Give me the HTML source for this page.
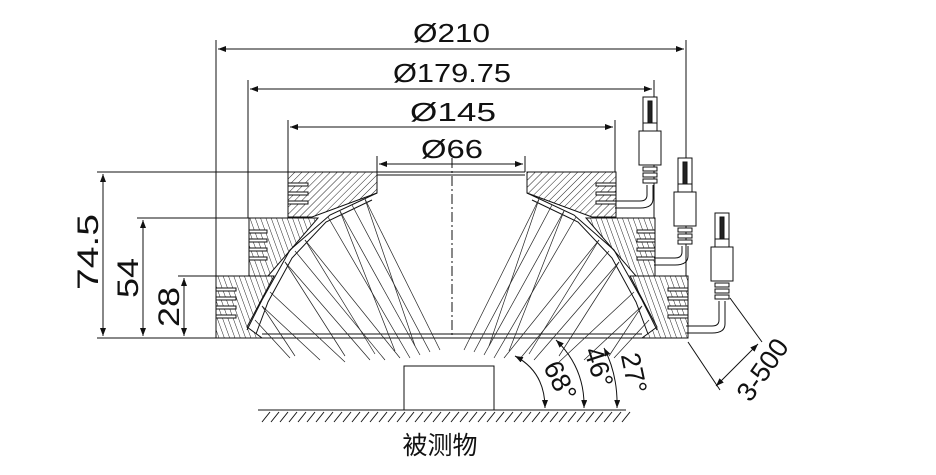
<!DOCTYPE html>
<html><head><meta charset="utf-8"><style>
html,body{margin:0;padding:0;background:#fff;width:936px;height:475px;overflow:hidden}
svg{display:block}
text{font-family:"Liberation Sans","Noto Sans CJK SC",sans-serif;fill:#111}
</style></head><body>
<svg id="s" width="936" height="475" viewBox="0 0 936 475" xmlns="http://www.w3.org/2000/svg">
<defs>
<pattern id="h" width="5" height="5" patternUnits="userSpaceOnUse" patternTransform="rotate(45)">
<line x1="0" y1="0" x2="0" y2="5" stroke="#222" stroke-width="1"/></pattern>
<pattern id="h2" width="5" height="5" patternUnits="userSpaceOnUse" patternTransform="rotate(-20)">
<line x1="0" y1="0" x2="0" y2="5" stroke="#222" stroke-width="1"/></pattern>
<marker id="a" markerWidth="8" markerHeight="6" refX="8" refY="3" orient="auto-start-reverse" markerUnits="userSpaceOnUse">
<path d="M0,0 L8,3 L0,6z" fill="#111"/></marker>
</defs>
<g stroke="#111" stroke-width="1" fill="none">
<line x1="216" y1="40" x2="216" y2="276"/><line x1="686" y1="40" x2="686" y2="276"/>
<line x1="248" y1="80" x2="248" y2="218"/><line x1="654" y1="80" x2="654" y2="218"/>
<line x1="288" y1="120" x2="288" y2="172"/><line x1="615" y1="120" x2="615" y2="172"/>
<line x1="377" y1="156" x2="377" y2="172"/><line x1="525" y1="156" x2="525" y2="172"/>
<line x1="218" y1="49" x2="684" y2="49" marker-start="url(#a)" marker-end="url(#a)"/>
<line x1="250" y1="89" x2="652" y2="89" marker-start="url(#a)" marker-end="url(#a)"/>
<line x1="290" y1="127" x2="613" y2="127" marker-start="url(#a)" marker-end="url(#a)"/>
<line x1="379" y1="164" x2="523" y2="164" marker-start="url(#a)" marker-end="url(#a)"/>
<line x1="97" y1="172" x2="288" y2="172"/>
<line x1="137" y1="218" x2="249" y2="218"/>
<line x1="178" y1="276" x2="216" y2="276"/>
<line x1="97" y1="338" x2="216" y2="338"/>
<line x1="103" y1="174" x2="103" y2="336" marker-start="url(#a)" marker-end="url(#a)"/>
<line x1="143" y1="220" x2="143" y2="336" marker-start="url(#a)" marker-end="url(#a)"/>
<line x1="184" y1="278" x2="184" y2="336" marker-start="url(#a)" marker-end="url(#a)"/>
<line x1="452" y1="158" x2="452" y2="338" stroke-dasharray="10,3,2,3"/>
<line x1="262" y1="334" x2="642" y2="334"/><line x1="262" y1="338" x2="642" y2="338"/>
<line x1="377" y1="172" x2="525" y2="172"/><line x1="377" y1="175" x2="525" y2="175"/>
</g>
<g id="rings" stroke="#111" stroke-width="1"></g>
<g id="beams" stroke="#222" stroke-width="0.7" fill="none"></g>
<g stroke="#111" stroke-width="1" fill="none">
<rect x="404" y="366" width="90" height="44" fill="#fff"/>
<line x1="258" y1="410" x2="626" y2="410"/>
<g id="gh"></g>
<path d="M515,356 Q545,372 545,408" marker-start="url(#a)" marker-end="url(#a)"/>
<path d="M556,340 Q585,368 584,408" marker-start="url(#a)" marker-end="url(#a)"/>
<path d="M604,348 Q618,375 617,408" marker-start="url(#a)" marker-end="url(#a)"/>
<line x1="688" y1="342" x2="720" y2="390"/>
<line x1="730" y1="298" x2="762" y2="342"/>
<line x1="716" y1="386" x2="758" y2="344" marker-start="url(#a)" marker-end="url(#a)"/>
</g>
<g id="cons" stroke="#111" stroke-width="1" fill="#fff"></g>
<text x="413" y="42" font-size="26" textLength="77" lengthAdjust="spacingAndGlyphs">Ø210</text>
<text x="393" y="82" font-size="26" textLength="118" lengthAdjust="spacingAndGlyphs">Ø179.75</text>
<text x="410" y="121" font-size="26" textLength="86" lengthAdjust="spacingAndGlyphs">Ø145</text>
<text x="421" y="158" font-size="26" textLength="62" lengthAdjust="spacingAndGlyphs">Ø66</text>
<text transform="translate(98,290) rotate(-90)" font-size="30" textLength="76" lengthAdjust="spacingAndGlyphs">74.5</text>
<text transform="translate(138,298) rotate(-90)" font-size="30" textLength="40" lengthAdjust="spacingAndGlyphs">54</text>
<text transform="translate(179,327) rotate(-90)" font-size="30" textLength="40" lengthAdjust="spacingAndGlyphs">28</text>
<text transform="translate(552,385) rotate(63)" font-size="27" text-anchor="middle">68°</text>
<text transform="translate(590,370) rotate(72)" font-size="27" text-anchor="middle">46°</text>
<text transform="translate(625,375) rotate(78)" font-size="27" text-anchor="middle">27°</text>
<text transform="translate(770,375) rotate(-55)" font-size="27" text-anchor="middle">3-500</text>
<text x="440" y="454" font-size="25" text-anchor="middle">被测物</text>
</svg>
<script>
var NS="http://www.w3.org/2000/svg";
function el(p,t,a){var e=document.createElementNS(NS,t);for(var k in a)e.setAttribute(k,a[k]);document.getElementById(p).appendChild(e);return e;}
function M(x){return 904-x;}
function poly(pts,mir){return pts.map(function(p){return (mir?M(p[0]):p[0])+","+p[1];}).join(" ");}
var rings=[
 {pts:[[288,172],[377,172],[377,193],[312,217],[288,217]],fy:[183,192,201],fx:288,fw:20},
 {pts:[[249,218],[318,218],[268,276],[249,276]],fy:[230,239,248,257],fx:249,fw:18},
 {pts:[[216,276],[274,276],[247,327],[262,338],[216,338]],fy:[288,297,306,315],fx:216,fw:20}
];
[false,true].forEach(function(m){
 rings.forEach(function(r,i){
  el("rings","polygon",{points:poly(r.pts,m),fill:"url(#h"+(i==0?"":"2")+")"});
  r.fy.forEach(function(y){var x=m?M(r.fx)-r.fw:r.fx;el("rings","rect",{x:x,y:y,width:r.fw,height:3,fill:"#fff"});});
 });
 el("rings","polyline",{points:poly([[377,193],[330,215],[290,250],[262,300],[247,330]],m),fill:"none"});
 el("rings","polyline",{points:poly([[372,200],[326,222],[292,258],[268,302],[256,334]],m),fill:"none"});
 var src=[[365,199],[352,205],[340,211],[328,217],[305,240],[295,251],[285,262],[270,292],[262,306],[255,320]];
 var tg=[[440,350],[430,352],[420,355],[410,358],[400,358],[385,360],[370,360],[345,362],[320,360],[290,358]];
 src.forEach(function(s,i){
  var sx=m?M(s[0]):s[0], ex=m?M(tg[i][0]):tg[i][0];
  el("beams","line",{x1:sx,y1:s[1],x2:ex,y2:tg[i][1]});
  if(i%2==0){var ex2=m?M(tg[i][0]-25):tg[i][0]-25;el("beams","line",{x1:sx,y1:s[1],x2:ex2,y2:tg[i][1]-4});}
 });
});
for(var x=262;x<626;x+=9){el("gh","line",{x1:x+8,y1:412,x2:x,y2:422});}
[[650,97,205,615],[685,158,262,654],[722,213,330,686]].forEach(function(c){
 var x=c[0],y=c[1];
 el("cons","rect",{x:x-7,y:y,width:14,height:31});
 el("cons","rect",{x:x-2,y:y+4,width:4,height:24,fill:"#222"});
 el("cons","rect",{x:x-11,y:y+34,width:22,height:34});
 el("cons","rect",{x:x-7,y:y+26,width:14,height:8});
 for(var k=0;k<3;k++)el("cons","rect",{x:x-7,y:y+70+k*6,width:14,height:4});
 el("cons","path",{d:"M"+(x-3)+","+(y+88)+" L"+(x-3)+","+(c[2]-10)+" Q"+(x-3)+","+(c[2]-4)+" "+(x-10)+","+(c[2]-4)+" L"+c[3]+","+(c[2]-4),fill:"none"});
 el("cons","path",{d:"M"+(x+3)+","+(y+88)+" L"+(x+3)+","+(c[2]-6)+" Q"+(x+3)+","+(c[2]+3)+" "+(x-10)+","+(c[2]+3)+" L"+c[3]+","+(c[2]+3),fill:"none"});
});
</script>
</body></html>
